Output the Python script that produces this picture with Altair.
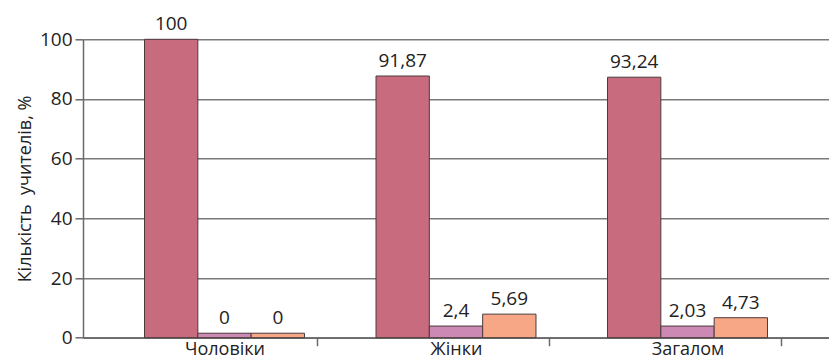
import altair as alt
import pandas as pd

groups = ["Чоловіки", "Жінки", "Загалом"]
series = ["Ряд 1", "Ряд 2", "Ряд 3"]

# bar heights as drawn in the picture (%)
s1_heights = [100, 87.7, 87.3]
s2_heights = [1.5, 3.9, 3.9]
s3_heights = [1.5, 7.9, 6.7]

# printed data labels
s1_labels = ["100", "91,87", "93,24"]
s2_labels = ["0", "2,4", "2,03"]
s3_labels = ["0", "5,69", "4,73"]

colors = ["#c96b7e", "#cc89b3", "#f7a686"]
y_ticks = [0, 20, 40, 60, 80, 100]

rows = []
for name, hs, ls in zip(series, [s1_heights, s2_heights, s3_heights],
                        [s1_labels, s2_labels, s3_labels]):
    for g, h, l in zip(groups, hs, ls):
        rows.append({"group": g, "series": name, "height": h, "label": l})
df = pd.DataFrame(rows)

FONT = "Open Sans"

base = alt.Chart(df).encode(
    x=alt.X(
        "group:N", sort=groups,
        scale=alt.Scale(paddingInner=0.309, paddingOuter=0.2657),
        axis=alt.Axis(title=None, labelAngle=0, tickOffset=93, labelOffset=-93,
                      tickSize=8, labelPadding=-5, labelFont=FONT, labelFontSize=18,
                      labelColor="#222222", grid=False),
    ),
    xOffset=alt.XOffset("series:N", sort=series,
                        scale=alt.Scale(paddingInner=0, paddingOuter=0)),
    y=alt.Y(
        "height:Q",
        scale=alt.Scale(domain=[0, 100], nice=False),
        axis=alt.Axis(title="Кількість\u00a0 учителів, %", values=y_ticks, tickSize=8,
                      labelPadding=3, labelFont=FONT, labelFontSize=19,
                      labelColor="#222222", titleFont=FONT, titleFontSize=18,
                      titleFontWeight="normal", titleColor="#222222",
                      titlePadding=5, grid=True),
    ),
)

bars = base.mark_bar(stroke="#4a3a3c", strokeWidth=1).encode(
    color=alt.Color("series:N", sort=series,
                    scale=alt.Scale(domain=series, range=colors), legend=None)
)

text = base.mark_text(dy=-9, baseline="alphabetic", font=FONT, fontSize=19,
                      color="#222222").encode(text="label:N")

chart = (bars + text).properties(
    width=746, height=298.4,
    autosize=alt.AutoSizeParams(type="none"),
    padding={"left": 83, "top": 39.3, "right": 0, "bottom": 24.3},
).configure_view(stroke=None).configure_axis(
    gridColor="#7a7a7a", gridWidth=1.5, domainColor="#6a6a6a", domainWidth=1.5,
    tickColor="#6a6a6a", tickWidth=1.5,
)

chart.save("out.html", embed_options={"renderer": "svg", "actions": False})
